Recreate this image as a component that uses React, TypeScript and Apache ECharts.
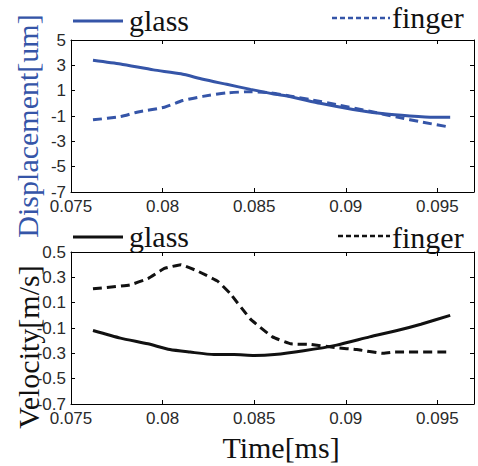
import React, { useEffect, useRef } from 'react';
import * as echarts from 'echarts';

// ---- tick labels ----
const timeTicks = [0.075, 0.08, 0.085, 0.09, 0.095];
const dispTicks = [-7, -5, -3, -1, 1, 3, 5];
const velTicks = [-0.7, -0.5, -0.3, -0.1, 0.1, 0.3, 0.5];

// ---- displacement (um) ----
const dispGlassT = [0.0762, 0.0777, 0.0795, 0.081, 0.0822, 0.0835, 0.0848, 0.086, 0.087, 0.0886, 0.0904, 0.0921, 0.0935, 0.0948, 0.0957];
const dispGlassV = [3.4, 3.1, 2.64, 2.33, 1.9, 1.5, 1.1, 0.75, 0.52, 0.0, -0.48, -0.83, -1.0, -1.1, -1.1];
const dispFingerT = [0.0762, 0.0777, 0.0786, 0.0801, 0.0811, 0.0822, 0.0835, 0.0848, 0.0859, 0.087, 0.0881, 0.0895, 0.0913, 0.0928, 0.0942, 0.0957];
const dispFingerV = [-1.3, -1.05, -0.7, -0.31, 0.22, 0.55, 0.82, 0.92, 0.82, 0.56, 0.28, -0.1, -0.62, -1.09, -1.49, -1.88];

// ---- velocity (m/s) ----
const velGlassT = [0.0762, 0.0777, 0.0792, 0.0804, 0.0815, 0.0828, 0.0839, 0.085, 0.0861, 0.0877, 0.0895, 0.0913, 0.0928, 0.0941, 0.0957];
const velGlassV = [-0.12, -0.18, -0.225, -0.27, -0.29, -0.31, -0.31, -0.317, -0.31, -0.28, -0.235, -0.17, -0.12, -0.07, 0.0];
const velFingerT = [0.0762, 0.0782, 0.0792, 0.0801, 0.081, 0.0819, 0.083, 0.0837, 0.0848, 0.086, 0.087, 0.0881, 0.0895, 0.0906, 0.092, 0.0926, 0.0957];
const velFingerV = [0.21, 0.24, 0.29, 0.37, 0.4, 0.35, 0.27, 0.17, -0.03, -0.17, -0.225, -0.23, -0.256, -0.27, -0.3, -0.29, -0.29];

const BLUE = '#3555a8';
const BLACK = '#111111';
const SERIF = '"Liberation Serif", "Times New Roman", serif';
const SANS = '"Liberation Sans", Arial, sans-serif';

const zip = (t: number[], v: number[]) => t.map((x, i) => [x, v[i]]);

export default function App() {
  const ref = useRef<HTMLDivElement>(null);
  useEffect(() => {
    if (!ref.current) return;
    const chart = echarts.init(ref.current, undefined, { renderer: 'svg' });
    const axisLine = { show: true, onZero: false, lineStyle: { color: '#000', width: 1 } };
    const xAxisBase = (gridIndex: number, position: 'top' | 'bottom') => ({
      type: 'value',
      gridIndex,
      position,
      min: 0.075,
      max: 0.097,
      axisLine,
      splitLine: { show: false },
      axisTick: { show: true, inside: true, length: 4, customValues: timeTicks, lineStyle: { color: '#000' } },
      axisLabel: {
        show: position === 'bottom',
        customValues: timeTicks,
        formatter: (v: number) => String(v),
        color: '#2a2a2a',
        fontSize: 17,
        fontFamily: SANS,
        margin: 6,
      },
    });
    const yAxisBase = (gridIndex: number, position: 'left' | 'right', min: number, max: number, ticks: number[]) => ({
      type: 'value',
      gridIndex,
      position,
      min,
      max,
      axisLine,
      splitLine: { show: false },
      axisTick: { show: true, inside: true, length: 4, customValues: ticks, lineStyle: { color: '#000' } },
      axisLabel: {
        show: position === 'left',
        customValues: ticks,
        formatter: (v: number) => String(v),
        color: '#2a2a2a',
        fontSize: 17,
        fontFamily: SANS,
        margin: 5,
      },
    });
    const legendText = (text: string, x: number, y: number) => ({
      type: 'text',
      x,
      y,
      style: { text, font: `30px ${SERIF}`, fill: '#111', align: 'left', verticalAlign: 'middle' },
    });
    const legendLine = (x1: number, x2: number, y: number, color: string, dashed: boolean) => ({
      type: 'line',
      shape: { x1, y1: y, x2, y2: y },
      style: { stroke: color, lineWidth: dashed ? 2.5 : 3, lineDash: dashed ? [5, 3] : null },
    });
    chart.setOption({
      animation: false,
      backgroundColor: '#ffffff',
      grid: [
        { left: 71, top: 40, width: 403, height: 152 },
        { left: 71, top: 252, width: 403, height: 152 },
      ],
      xAxis: [xAxisBase(0, 'bottom'), xAxisBase(0, 'top'), xAxisBase(1, 'bottom'), xAxisBase(1, 'top')],
      yAxis: [
        yAxisBase(0, 'left', -7, 5, dispTicks),
        yAxisBase(0, 'right', -7, 5, dispTicks),
        yAxisBase(1, 'left', -0.7, 0.5, velTicks),
        yAxisBase(1, 'right', -0.7, 0.5, velTicks),
      ],
      series: [
        {
          name: 'glass', type: 'line', xAxisIndex: 0, yAxisIndex: 0, showSymbol: false,
          data: zip(dispGlassT, dispGlassV), lineStyle: { color: BLUE, width: 3 }, smooth: 0.2,
        },
        {
          name: 'finger', type: 'line', xAxisIndex: 0, yAxisIndex: 0, showSymbol: false,
          data: zip(dispFingerT, dispFingerV), lineStyle: { color: BLUE, width: 3, type: [9, 5] }, smooth: 0.2,
        },
        {
          name: 'glass', type: 'line', xAxisIndex: 2, yAxisIndex: 2, showSymbol: false,
          data: zip(velGlassT, velGlassV), lineStyle: { color: BLACK, width: 3 }, smooth: 0.2,
        },
        {
          name: 'finger', type: 'line', xAxisIndex: 2, yAxisIndex: 2, showSymbol: false,
          data: zip(velFingerT, velFingerV), lineStyle: { color: BLACK, width: 3, type: [9, 5] }, smooth: 0.1,
        },
      ],
      graphic: [
        legendLine(73, 123, 21, BLUE, false),
        legendText('glass', 129, 20),
        legendLine(332, 390, 18, BLUE, true),
        legendText('finger', 392, 17),
        legendLine(73, 123, 237, BLACK, false),
        legendText('glass', 129, 236),
        legendLine(338, 390, 236, BLACK, true),
        legendText('finger', 392, 237),
        {
          type: 'text', x: 27, y: 126, rotation: Math.PI / 2,
          style: { text: 'Displacement[um]', font: `30px ${SERIF}`, fill: BLUE, align: 'center', verticalAlign: 'middle' },
        },
        {
          type: 'text', x: 28, y: 347, rotation: Math.PI / 2,
          style: { text: 'Velocity[m/s]', font: `30px ${SERIF}`, fill: '#111', align: 'center', verticalAlign: 'middle' },
        },
        {
          type: 'text', x: 281, y: 447,
          style: { text: 'Time[ms]', font: `30px ${SERIF}`, fill: '#111', align: 'center', verticalAlign: 'middle' },
        },
      ],
    });
    return () => chart.dispose();
  }, []);
  return <div ref={ref} style={{ position: 'absolute', left: 0, top: 0, width: 478, height: 466 }} />;
}
